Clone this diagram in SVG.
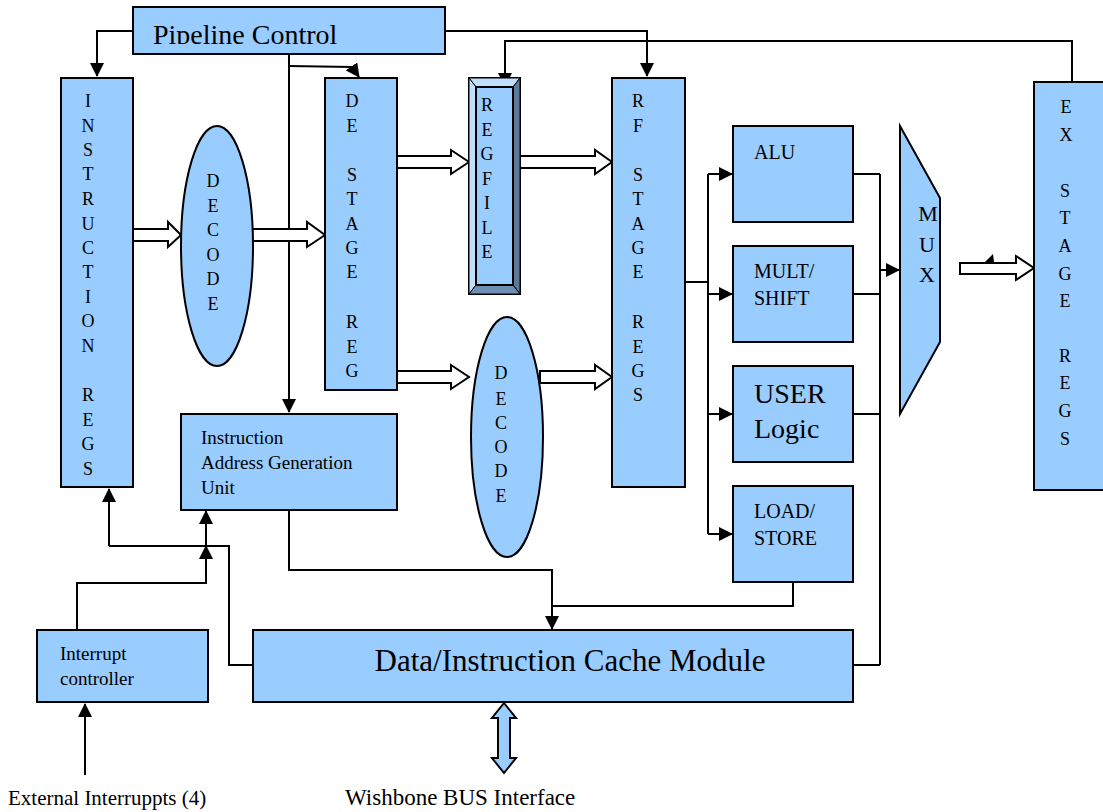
<svg xmlns="http://www.w3.org/2000/svg" width="1103" height="812" viewBox="0 0 1103 812" font-family="'Liberation Serif', 'DejaVu Serif', serif">
<style>
.box{fill:#99CCFF;stroke:#000;stroke-width:2}
.ln{fill:none;stroke:#000;stroke-width:2}
.ha{fill:#fff;stroke:#000;stroke-width:2}
text{font-family:'Liberation Serif','DejaVu Serif',serif;fill:#000}
.v{font-size:18px;text-anchor:middle}
.s19{font-size:19px}
</style>
<defs>
<marker id="ahb" markerWidth="14" markerHeight="14" refX="13" refY="7" orient="auto" markerUnits="userSpaceOnUse" viewBox="0 0 14 14">
<path d="M0,0 L14,7 L0,14 z" fill="#000"/>
</marker>
<clipPath id="pcclip"><rect x="133" y="7" width="312" height="37"/></clipPath>
</defs>

<g id="connectors">
<path class="ln" d="M133,31 H97 V76" marker-end="url(#ahb)"/>
<path class="ln" d="M289,54 V412" marker-end="url(#ahb)"/>
<path class="ln" d="M289,66 L352,67 L359,77" marker-end="url(#ahb)"/>
<path class="ln" d="M445,31 H647 V76" marker-end="url(#ahb)"/>
<path class="ln" d="M1072,82 V41 H505 V86" marker-end="url(#ahb)"/>
<path class="ln" d="M685,282 H708 M708,174 V534"/>
<path class="ln" d="M708,174 H732" marker-end="url(#ahb)"/>
<path class="ln" d="M708,294 H732" marker-end="url(#ahb)"/>
<path class="ln" d="M708,414 H732" marker-end="url(#ahb)"/>
<path class="ln" d="M708,534 H732" marker-end="url(#ahb)"/>
<path class="ln" d="M853,174 H880 M853,294 H880 M853,414 H880 M853,665 H880 M880,174 V665"/>
<path class="ln" d="M880,270 H899" marker-end="url(#ahb)"/>
<path class="ln" d="M289,510 V570 H552 V629" marker-end="url(#ahb)"/>
<path class="ln" d="M793,582 V606 H552"/>
<path class="ln" d="M109,546 V489" marker-end="url(#ahb)"/>
<path class="ln" d="M109,546 H229 V665 H253"/>
<path class="ln" d="M77,630 V583 H206 V546" marker-end="url(#ahb)"/>
<path class="ln" d="M206,546 V511" marker-end="url(#ahb)"/>
<path class="ln" d="M85,775 V704" marker-end="url(#ahb)"/>
<polygon class="ha" points="133,229 168,229 168,222 181,235 168,247 168,241 133,241"/>
<polygon class="ha" points="252,229 307,229 307,222 325,235 307,247 307,241 252,241"/>
<polygon class="ha" points="397,156 451,156 451,150 469,162 451,174 451,168 397,168"/>
<polygon class="ha" points="520,156 595,156 595,150 612,162 595,174 595,168 520,168"/>
<polygon class="ha" points="397,371 451,371 451,365 469,377 451,389 451,383 397,383"/>
<polygon class="ha" points="540,371 595,371 595,365 612,377 595,389 595,383 540,383"/>
<polygon class="ha" points="960,263 1016,263 1016,256 1034,268 1016,280 1016,274 960,274"/>
<polygon points="985,262 993,254 994,262" fill="#000"/>
<polygon points="504,703 516,718 510,718 510,758 516,758 504,773 492,758 498,758 498,718 492,718" fill="#99CCFF" stroke="#000" stroke-width="2"/>
</g>

<g id="pipeline-control">
<rect class="box" x="133" y="7" width="312" height="47"/>
<text x="153" y="44" font-size="28" clip-path="url(#pcclip)">Pipeline Control</text>
</g>

<g id="instruction-regs">
<rect class="box" x="61" y="78" width="72" height="409"/>
<text class="v"><tspan x="88" y="107">I</tspan><tspan x="88" y="132">N</tspan><tspan x="88" y="156">S</tspan><tspan x="88" y="180">T</tspan><tspan x="88" y="205">R</tspan><tspan x="88" y="230">U</tspan><tspan x="88" y="254">C</tspan><tspan x="88" y="278">T</tspan><tspan x="88" y="303">I</tspan><tspan x="88" y="327">O</tspan><tspan x="88" y="352">N</tspan><tspan x="88" y="401">R</tspan><tspan x="88" y="426">E</tspan><tspan x="88" y="450">G</tspan><tspan x="88" y="475">S</tspan></text>
</g>

<g id="decode-1">
<ellipse class="box" cx="217" cy="246" rx="36" ry="120"/>
<text class="v"><tspan x="213" y="187">D</tspan><tspan x="213" y="212">E</tspan><tspan x="213" y="236">C</tspan><tspan x="213" y="261">O</tspan><tspan x="213" y="285">D</tspan><tspan x="213" y="310">E</tspan></text>
</g>

<g id="de-stage-reg">
<rect class="box" x="325" y="78" width="72" height="312"/>
<text class="v"><tspan x="352" y="107">D</tspan><tspan x="352" y="132">E</tspan><tspan x="352" y="181">S</tspan><tspan x="352" y="205">T</tspan><tspan x="352" y="230">A</tspan><tspan x="352" y="254">G</tspan><tspan x="352" y="278">E</tspan><tspan x="352" y="328">R</tspan><tspan x="352" y="353">E</tspan><tspan x="352" y="377">G</tspan></text>
</g>

<g id="regfile">
<rect x="469" y="78" width="51" height="216" fill="#99CCFF" stroke="#000" stroke-width="2"/>
<polygon points="469,78 520,78 513,87 476,87" fill="#BFDFFF" stroke="#000" stroke-width="1"/>
<polygon points="469,78 476,87 476,285 469,294" fill="#BFDFFF" stroke="#000" stroke-width="1"/>
<polygon points="520,78 520,294 513,285 513,87" fill="#5B7B9B" stroke="#000" stroke-width="1"/>
<polygon points="469,294 476,285 513,285 520,294" fill="#6D8FB3" stroke="#000" stroke-width="1"/>
<rect x="476" y="87" width="37" height="198" fill="#99CCFF" stroke="#000" stroke-width="2"/>
<text class="v"><tspan x="487" y="111">R</tspan><tspan x="487" y="136">E</tspan><tspan x="487" y="160">G</tspan><tspan x="487" y="185">F</tspan><tspan x="487" y="209">I</tspan><tspan x="487" y="234">L</tspan><tspan x="487" y="258">E</tspan></text>
</g>

<g id="decode-2">
<ellipse class="box" cx="507" cy="437" rx="36" ry="120"/>
<text class="v"><tspan x="501" y="379">D</tspan><tspan x="501" y="405">E</tspan><tspan x="501" y="429">C</tspan><tspan x="501" y="453">O</tspan><tspan x="501" y="477">D</tspan><tspan x="501" y="502">E</tspan></text>
</g>

<g id="rf-stage-regs">
<rect class="box" x="612" y="78" width="73" height="409"/>
<text class="v"><tspan x="638" y="107">R</tspan><tspan x="638" y="132">F</tspan><tspan x="638" y="181">S</tspan><tspan x="638" y="205">T</tspan><tspan x="638" y="230">A</tspan><tspan x="638" y="254">G</tspan><tspan x="638" y="278">E</tspan><tspan x="638" y="328">R</tspan><tspan x="638" y="353">E</tspan><tspan x="638" y="377">G</tspan><tspan x="638" y="401">S</tspan></text>
</g>

<g id="alu">
<rect class="box" x="733" y="126" width="120" height="96"/>
<text x="754" y="159" font-size="20">ALU</text>
</g>

<g id="mult-shift">
<rect class="box" x="733" y="246" width="120" height="96"/>
<text x="754" y="278" font-size="20">MULT/</text>
<text x="754" y="305" font-size="20">SHIFT</text>
</g>

<g id="user-logic">
<rect class="box" x="733" y="366" width="120" height="96"/>
<text x="754" y="403" font-size="28">USER</text>
<text x="754" y="438" font-size="28">Logic</text>
</g>

<g id="load-store">
<rect class="box" x="733" y="486" width="120" height="96"/>
<text x="754" y="518" font-size="20">LOAD/</text>
<text x="754" y="545" font-size="20">STORE</text>
</g>

<g id="mux">
<polygon class="box" points="900,126 940,198 940,342 900,414"/>
<text class="v" font-size="22"><tspan x="928" y="221" font-size="22">M</tspan><tspan x="927" y="252" font-size="22">U</tspan><tspan x="927" y="282" font-size="22">X</tspan></text>
</g>

<g id="ex-stage-regs">
<rect class="box" x="1034" y="82" width="80" height="408"/>
<text class="v" font-size="20"><tspan x="1066" y="113">E</tspan><tspan x="1066" y="141">X</tspan><tspan x="1065" y="197">S</tspan><tspan x="1065" y="224">T</tspan><tspan x="1065" y="252">A</tspan><tspan x="1065" y="280">G</tspan><tspan x="1065" y="307">E</tspan><tspan x="1065" y="362">R</tspan><tspan x="1065" y="389">E</tspan><tspan x="1065" y="417">G</tspan><tspan x="1065" y="445">S</tspan></text>
</g>

<g id="iagu">
<rect class="box" x="181" y="414" width="216" height="96"/>
<text class="s19" x="201" y="444">Instruction</text>
<text class="s19" x="201" y="469">Address Generation</text>
<text class="s19" x="201" y="494">Unit</text>
</g>

<g id="interrupt-controller">
<rect class="box" x="37" y="630" width="171" height="72"/>
<text class="s19" x="60" y="660">Interrupt</text>
<text class="s19" x="60" y="685">controller</text>
</g>

<g id="cache">
<rect class="box" x="253" y="630" width="600" height="72"/>
<text x="570" y="671" font-size="31" text-anchor="middle">Data/Instruction Cache Module</text>
</g>

<g id="labels">
<text x="8" y="805" font-size="21">External Interruppts (4)</text>
<text x="345" y="805" font-size="23">Wishbone BUS Interface</text>
</g>
</svg>
